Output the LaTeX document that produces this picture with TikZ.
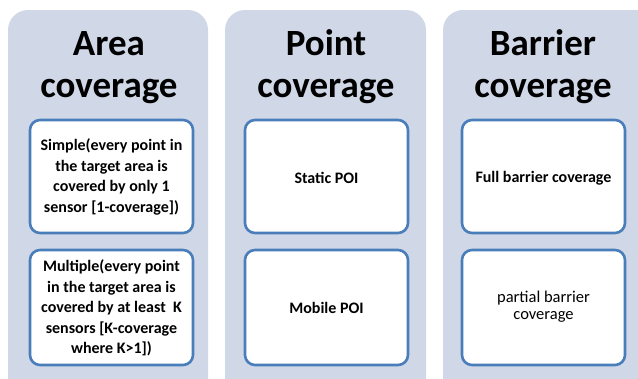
\documentclass[tikz,border=0pt]{standalone}
\usepackage{fontspec}
\setmainfont{Carlito}
\definecolor{panelfill}{RGB}{208,216,232}
\definecolor{boxline}{RGB}{74,126,187}
\tikzset{
  panel/.style={fill=panelfill, draw=none, rounded corners=20pt},
  itembox/.style={fill=white, draw=boxline, line width=2.6pt, rounded corners=10pt},
  title/.style={font=\bfseries\fontsize{37}{42}\selectfont, anchor=base, inner sep=0pt},
  itemtext/.style={font=\bfseries\fontsize{16}{20.5}\selectfont, align=center, inner sep=0pt},
  itemtextlight/.style={font=\fontsize{16.5}{17}\selectfont, align=center, inner sep=0pt}
}
\begin{document}
\begin{tikzpicture}[x=1pt,y=-1pt]
\useasboundingbox (0,0) rectangle (638,378);
\clip (0,0) rectangle (638,378);
\fill[white] (0,0) rectangle (638,378);
% panels
\path[panel] (8,10) rectangle (208,400);
\path[panel] (225,10) rectangle (426,400);
\path[panel] (443,10) rectangle (660,400);
% titles
\node[title] (t1a) at (109,55) {Area};
\node[title] (t1b) at (109,97) {coverage};
\node[title] (t2a) at (326,55) {Point};
\node[title] (t2b) at (326,97) {coverage};
\node[title] (t3a) at (543,55) {Barrier};
\node[title] (t3b) at (543,97) {coverage};
% boxes
\draw[itembox] (30,120) rectangle (193,233);
\draw[itembox] (30,250) rectangle (193,365);
\draw[itembox] (245,120) rectangle (408,233);
\draw[itembox] (245,250) rectangle (408,365);
\draw[itembox] (462,120) rectangle (625,233);
\draw[itembox] (462,250) rectangle (625,365);
% texts
\node[itemtext] (a1) at (111.5,177) {Simple(every point in\\the target area is\\covered by only 1\\sensor [1-coverage])};
\node[itemtext] (a2) at (111.5,308) {Multiple(every point\\in the target area is\\covered by at least\ \ K\\sensors [K-coverage\\where K>1])};
\node[itemtext] (p1) at (326.5,178) {Static POI};
\node[itemtext] (p2) at (326.5,308) {Mobile POI};
\node[itemtext] (b1) at (543.5,178) {Full barrier coverage};
\node[itemtextlight] (b2) at (543.5,307) {partial barrier\\coverage};
\end{tikzpicture}
\end{document}
